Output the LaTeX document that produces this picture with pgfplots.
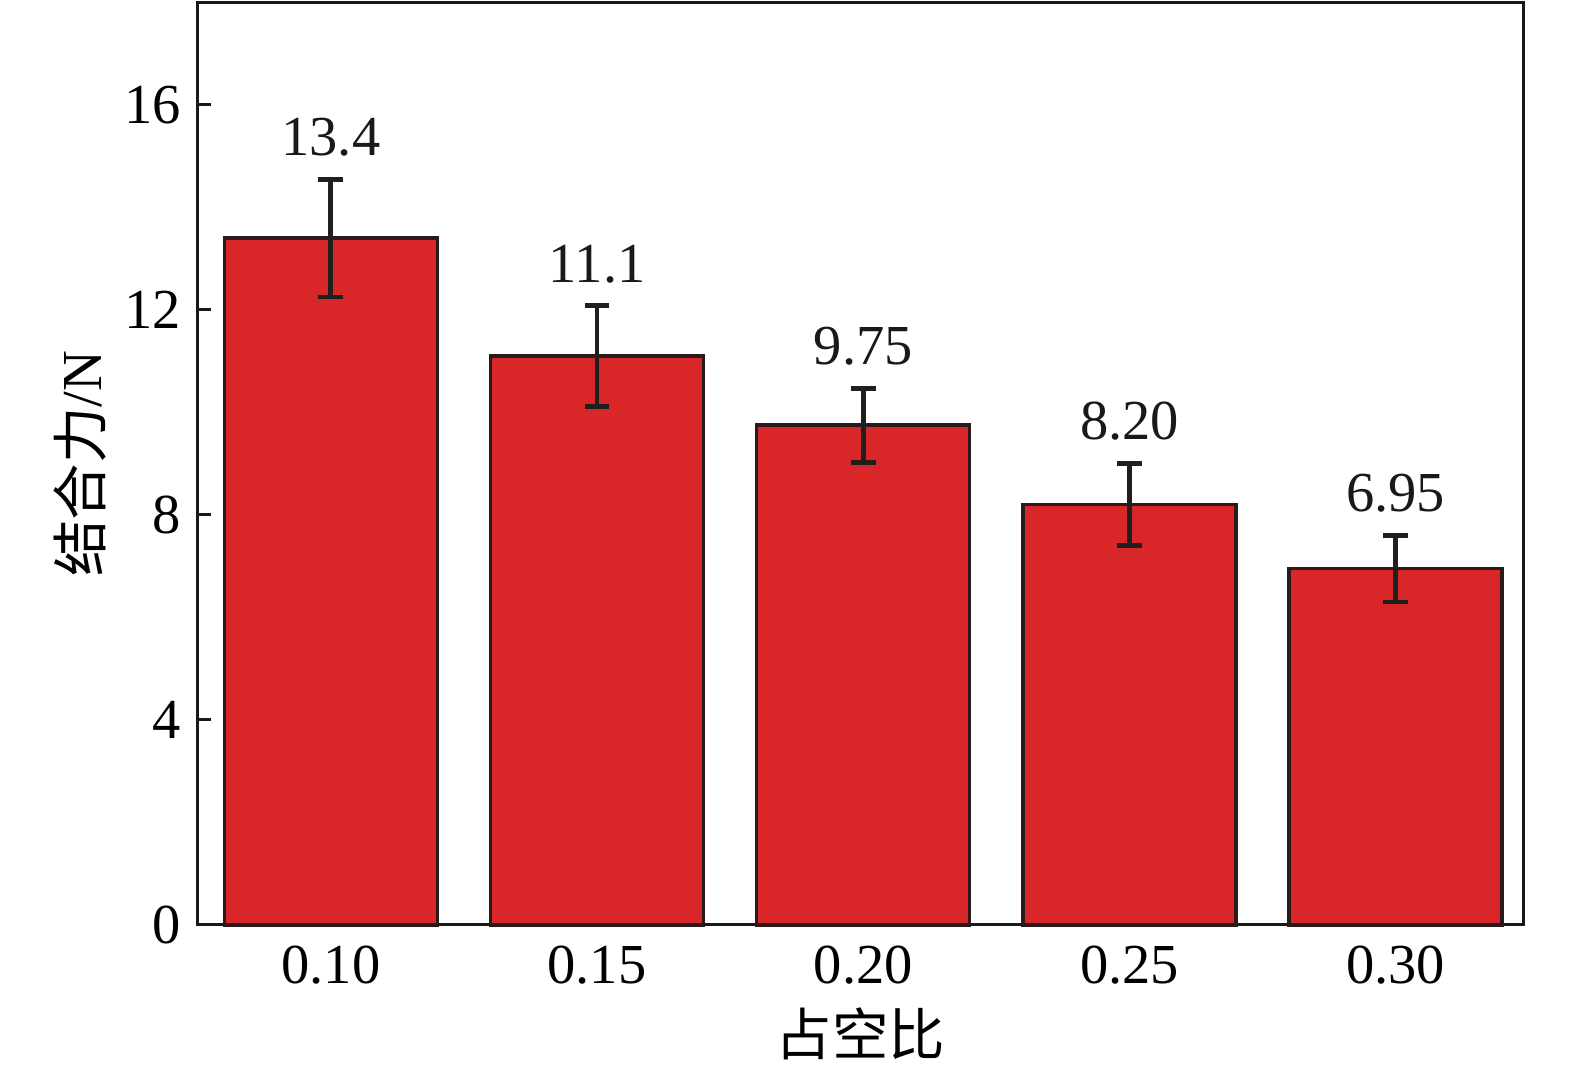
\documentclass[border=0pt]{standalone}
\usepackage{fontspec}
\setmainfont{Liberation Serif}
\newfontfamily\cjk{Noto Sans CJK SC}
\usepackage{pgfplots}
\pgfplotsset{compat=1.18}
\definecolor{barred}{HTML}{D92628}
\definecolor{edge}{HTML}{2A1A1A}
\begin{document}
\begin{tikzpicture}
\begin{axis}[
  scale only axis,
  width=352pt, height=245pt,
  xmin=-0.5, xmax=4.48, ymin=0, ymax=18,
  xtick={0,1,2,3,4},
  xticklabels={0.10,0.15,0.20,0.25,0.30},
  ytick={0,4,8,12,16},
  tick pos=left, tick align=inside,
  major tick length=3.6pt,
  axis line style={line width=0.8pt, color=black!90},
  every tick/.style={line width=0.8pt, black!90},
  /pgf/number format/assume math mode=true,
  tick label style={font=\fontsize{15}{18}\selectfont},
  xticklabel style={yshift=-2pt},
  yticklabel style={xshift=-1pt},
  ylabel={{\cjk 结合力}/N},
  xlabel={\cjk 占空比},
  label style={font=\fontsize{15}{18}\selectfont},
  ylabel style={at={(axis description cs:-0.0886,0.5)}, anchor=center},
  xlabel style={at={(axis description cs:0.5,-0.118)}, anchor=center},
  clip=false,
]
\coordinate (O) at (rel axis cs:0,0);
\addplot[ybar, bar width=0.8, fill=barred, draw=edge, line width=0.9pt,
  error bars/.cd, y dir=both, y explicit,
  error bar style={line width=1.3pt, color=black!88},
  error mark options={rotate=90, mark size=3.3pt, line width=1.3pt, color=black!88}]
  coordinates {
  (0,13.4) +- (0,1.15)
  (1,11.1) +- (0,0.98)
  (2,9.75) +- (0,0.72)
  (3,8.20) +- (0,0.80)
  (4,6.95) +- (0,0.65)
};
\addplot[draw=none, mark=none, nodes near coords, point meta=explicit symbolic,
  every node near coord/.append style={anchor=base, yshift=6.3pt, font=\fontsize{15}{18}\selectfont, text=black!90}]
  coordinates {
  (0,14.55) [13.4]
  (1,12.08) [11.1]
  (2,10.47) [9.75]
  (3,9.00) [8.20]
  (4,7.60) [6.95]
};
\end{axis}
\pgfresetboundingbox
\path (O) ++(-52.5pt,-39.2pt) rectangle ++(418.2pt,284.8pt);
\end{tikzpicture}
\end{document}
